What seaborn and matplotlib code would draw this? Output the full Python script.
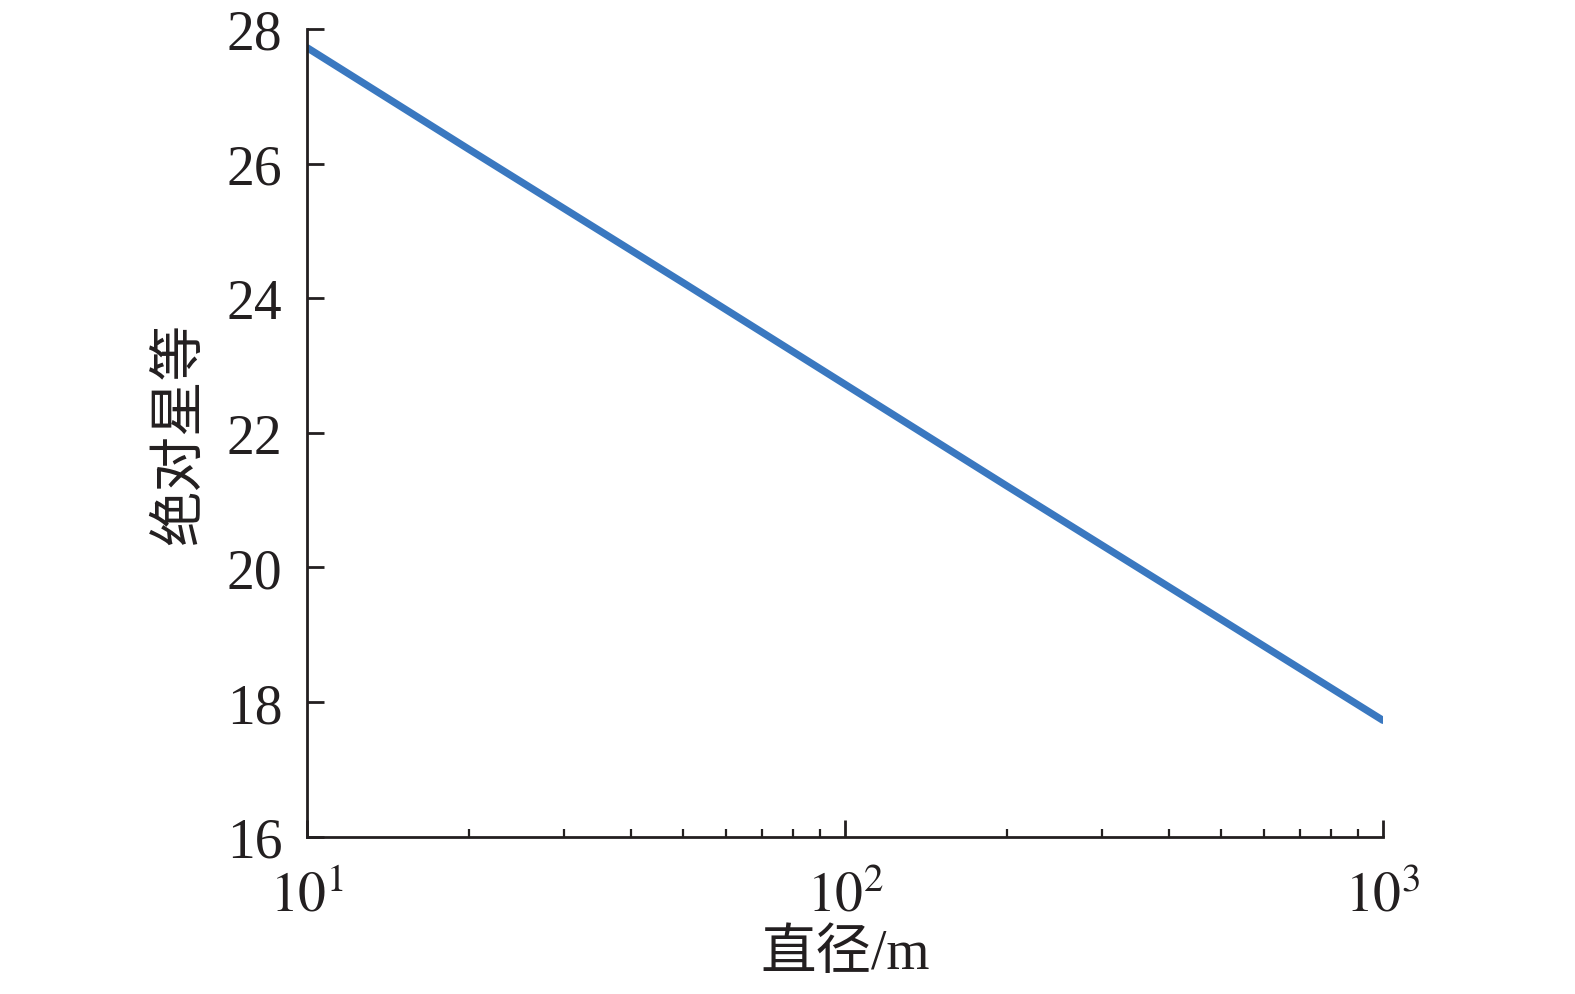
import numpy as np
import pandas as pd
import matplotlib
matplotlib.use('Agg')
import matplotlib.pyplot as plt
import seaborn as sb

# 数据
diameter = [10, 20, 50, 100, 200, 500, 1000]
abs_mag = [27.72, 26.21, 24.23, 22.72, 21.21, 19.23, 17.73]
df = pd.DataFrame({'diameter': diameter, 'abs_mag': abs_mag})

sb.set_style('ticks')
plt.rcParams['font.family'] = ['Liberation Serif', 'Noto Sans CJK SC']
plt.rcParams['mathtext.fontset'] = 'stix'
plt.rcParams['xtick.direction'] = 'in'
plt.rcParams['ytick.direction'] = 'in'

fig = plt.figure(figsize=(15.75, 9.95), dpi=100)
ax = fig.add_axes([0.195, 0.158, 0.683, 0.812])
sb.lineplot(data=df, x='diameter', y='abs_mag', color='#3a78c0', linewidth=5.2, ax=ax)
sb.despine(ax=ax)

ax.set_xscale('log')
ax.set_xlim(10, 1000)
ax.set_ylim(16, 28)
ax.set_yticks([16, 18, 20, 22, 24, 26, 28])
ax.set_xticks([10, 100, 1000])
ax.set_xticklabels(['$10^1$', '$10^2$', '$10^3$'])
ax.tick_params(axis='both', which='major', direction='in', length=12, width=2,
               labelsize=40, colors='#231f20')
ax.tick_params(axis='x', which='minor', direction='in', length=6, width=1.6,
               colors='#231f20')
ax.tick_params(axis='x', which='major', pad=24)
ax.tick_params(axis='y', which='major', pad=18)
for s in ['left', 'bottom']:
    ax.spines[s].set_linewidth(2)
    ax.spines[s].set_color('#231f20')

ax.set_xlabel('直径/m', fontsize=40, color='#231f20', labelpad=4)
ax.set_ylabel('绝对星等', fontsize=40, color='#231f20', labelpad=14)

fig.savefig('out.png', dpi=100)
